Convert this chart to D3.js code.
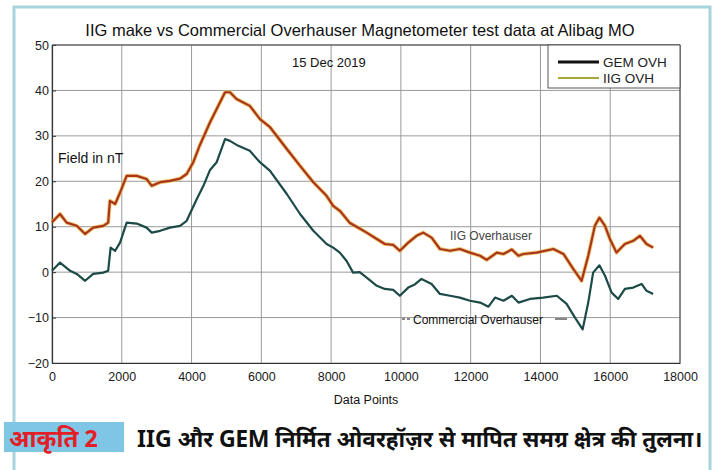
<!DOCTYPE html>
<html>
<head>
<meta charset="utf-8">
<script src="https://cdn.jsdelivr.net/npm/d3@7"></script>
<style>
  body { margin: 0; background: #fff; }
  svg text { font-family: "Liberation Sans", Arial, sans-serif; }
</style>
</head>
<body>
<div id="chart"></div>
<script>
// readings: data point index vs field (nT)
const iigPoints = [0, 230, 420, 710, 950, 1180, 1470, 1610, 1660, 1810, 1950, 2140, 2430, 2710, 2860, 3100, 3380, 3670, 3860, 4050, 4240, 4530, 4720, 4960, 5100, 5290, 5670, 5960, 6250, 6730, 7110, 7490, 7870, 8060, 8250, 8540, 8730, 9020, 9310, 9540, 9780, 9970, 10210, 10450, 10640, 10880, 11120, 11410, 11690, 11980, 12270, 12460, 12750, 12940, 13180, 13370, 13510, 13890, 14370, 14660, 14940, 15180, 15370, 15560, 15690, 15850, 15990, 16180, 16420, 16660, 16850, 17040, 17230];
const iigField = [11.0, 12.8, 10.9, 10.2, 8.4, 9.8, 10.2, 10.9, 15.7, 15.0, 17.5, 21.2, 21.2, 20.5, 19.0, 19.8, 20.1, 20.6, 21.6, 24.2, 28.0, 33.0, 35.9, 39.6, 39.6, 38.1, 36.6, 33.7, 31.9, 27.1, 23.4, 19.8, 16.8, 14.6, 13.5, 10.8, 10.0, 8.7, 7.3, 6.2, 6.0, 4.7, 6.5, 8.0, 8.7, 7.6, 5.1, 4.7, 5.1, 4.3, 3.6, 2.7, 4.3, 4.0, 5.0, 3.6, 4.0, 4.3, 5.1, 4.0, 0.7, -1.9, 3.6, 10.2, 12.0, 10.2, 7.3, 4.3, 6.2, 6.9, 8.0, 6.2, 5.4];

const gemPoints = [0, 230, 520, 710, 950, 1180, 1470, 1610, 1680, 1810, 1950, 2140, 2430, 2710, 2860, 3100, 3380, 3670, 3860, 4150, 4340, 4530, 4720, 4960, 5100, 5340, 5670, 5960, 6250, 6730, 7110, 7490, 7870, 8060, 8250, 8440, 8630, 8820, 9020, 9310, 9540, 9780, 9970, 10210, 10400, 10590, 10880, 11120, 11410, 11690, 11980, 12270, 12510, 12700, 12940, 13180, 13370, 13700, 14080, 14470, 14750, 14990, 15210, 15370, 15510, 15690, 15850, 16040, 16230, 16420, 16660, 16900, 17040, 17230];
const gemField = [0.3, 2.1, 0.3, -0.4, -1.9, -0.4, -0.1, 0.3, 5.4, 4.7, 6.5, 10.9, 10.7, 9.8, 8.7, 9.1, 9.8, 10.2, 11.3, 16.1, 19.0, 22.5, 24.2, 29.3, 28.9, 27.8, 26.7, 24.2, 22.3, 17.2, 12.8, 9.1, 6.2, 5.4, 4.3, 2.5, -0.1, 0.0, -1.2, -3.0, -3.7, -3.9, -5.2, -3.4, -2.7, -1.5, -2.6, -4.8, -5.2, -5.6, -6.3, -6.7, -7.6, -5.6, -6.3, -5.2, -6.7, -5.9, -5.6, -5.2, -7.0, -10.0, -12.6, -6.7, -0.1, 1.5, -0.8, -4.5, -5.9, -3.7, -3.4, -2.6, -4.1, -4.8];

const xTicks = [0, 2000, 4000, 6000, 8000, 10000, 12000, 14000, 16000, 18000];
const yTicks = [-20, -10, 0, 10, 20, 30, 40, 50];
const legendLabels = ["GEM OVH", "IIG OVH"];

const width = 715, height = 470;
const margin = { top: 45, right: 35, bottom: 107, left: 52 };

const svg = d3.select("#chart").append("svg")
  .attr("width", width)
  .attr("height", height);

// outer frame of the figure
svg.append("rect")
  .attr("x", 14).attr("y", 7)
  .attr("width", 696).attr("height", 470)
  .attr("fill", "#fff")
  .attr("stroke", "#a8d4de")
  .attr("stroke-width", 3);

const x = d3.scaleLinear().domain([0, 18000]).range([margin.left, width - margin.right]);
const y = d3.scaleLinear().domain([-20, 50]).range([height - margin.bottom, margin.top]);

// grid
svg.append("g")
  .selectAll("line")
  .data(xTicks)
  .join("line")
  .attr("x1", d => x(d)).attr("x2", d => x(d))
  .attr("y1", y(50)).attr("y2", y(-20))
  .attr("stroke", "#9a9a9a").attr("stroke-width", 1);

svg.append("g")
  .selectAll("line")
  .data(yTicks)
  .join("line")
  .attr("x1", x(0)).attr("x2", x(18000))
  .attr("y1", d => y(d)).attr("y2", d => y(d))
  .attr("stroke", "#9a9a9a").attr("stroke-width", 1);

// axes
const xAxis = svg.append("g")
  .attr("transform", `translate(0,${y(-20)})`)
  .call(d3.axisBottom(x).tickValues(xTicks).tickFormat(d3.format("d")).tickSize(0).tickPadding(9));
const yAxis = svg.append("g")
  .attr("transform", `translate(${x(0)},0)`)
  .call(d3.axisLeft(y).tickValues(yTicks).tickSize(-4).tickPadding(3));

[xAxis, yAxis].forEach(a => {
  a.select(".domain").attr("stroke", "#333").attr("stroke-width", 1.2);
  a.selectAll("text").attr("font-size", 12.5).attr("fill", "#1a1a1a");
  a.selectAll(".tick line").attr("stroke", "#333");
});

// top and right frame
svg.append("line")
  .attr("x1", x(0)).attr("x2", x(18000))
  .attr("y1", y(50)).attr("y2", y(50))
  .attr("stroke", "#444");
svg.append("line")
  .attr("x1", x(18000)).attr("x2", x(18000))
  .attr("y1", y(50)).attr("y2", y(-20))
  .attr("stroke", "#444");

const iigData = iigPoints.map((p, i) => [p, iigField[i]]);
const gemData = gemPoints.map((p, i) => [p, gemField[i]]);

const line = d3.line()
  .x(d => x(d[0]))
  .y(d => y(d[1]));

// IIG: red-brown trace with yellow halo
svg.append("path")
  .datum(iigData)
  .attr("d", line)
  .attr("fill", "none")
  .attr("stroke", "#eab43c")
  .attr("stroke-width", 4)
  .attr("stroke-linejoin", "round")
  .attr("opacity", 0.7);
svg.append("path")
  .datum(iigData)
  .attr("d", line)
  .attr("fill", "none")
  .attr("stroke", "#a8361c")
  .attr("stroke-width", 2.2)
  .attr("stroke-linejoin", "round");

svg.append("path")
  .datum(gemData)
  .attr("d", line)
  .attr("fill", "none")
  .attr("stroke", "#1c4a46")
  .attr("stroke-width", 2.2)
  .attr("stroke-linejoin", "round");

// legend
const legend = svg.append("g");
legend.append("rect")
  .attr("x", 548).attr("y", y(50))
  .attr("width", x(18000) - 548).attr("height", 43)
  .attr("fill", "#fff")
  .attr("stroke", "#555");
const legendColors = ["#111", "#a8a838"];
legendLabels.forEach((lab, i) => {
  const ly = 62 + i * 16;
  legend.append("line")
    .attr("x1", 558).attr("x2", 599)
    .attr("y1", ly).attr("y2", ly)
    .attr("stroke", legendColors[i])
    .attr("stroke-width", i === 0 ? 3 : 2);
  legend.append("text")
    .attr("x", 603).attr("y", ly + 5)
    .attr("font-size", 13.5)
    .attr("fill", "#222")
    .text(lab);
});

// titles and notes
svg.append("text")
  .attr("x", 360).attr("y", 36)
  .attr("text-anchor", "middle")
  .attr("font-size", 16.5)
  .attr("fill", "#111")
  .text("IIG make vs Commercial Overhauser Magnetometer test data at Alibag MO");

svg.append("text")
  .attr("x", 292).attr("y", 67)
  .attr("font-size", 13)
  .attr("fill", "#111")
  .text("15 Dec 2019");

svg.append("text")
  .attr("x", 58).attr("y", 163)
  .attr("font-size", 14)
  .attr("fill", "#111")
  .text("Field in nT");

svg.append("text")
  .attr("x", 450).attr("y", 240)
  .attr("font-size", 12)
  .attr("fill", "#444")
  .text("IIG Overhauser");

svg.append("line")
  .attr("x1", 402).attr("x2", 412)
  .attr("y1", 319).attr("y2", 319)
  .attr("stroke", "#111").attr("stroke-dasharray", "3,2");
svg.append("text")
  .attr("x", 413).attr("y", 323.5)
  .attr("font-size", 12)
  .attr("fill", "#111")
  .text("Commercial Overhauser");
svg.append("line")
  .attr("x1", 555).attr("x2", 567)
  .attr("y1", 319).attr("y2", 319)
  .attr("stroke", "#111");

svg.append("text")
  .attr("x", 366).attr("y", 404)
  .attr("text-anchor", "middle")
  .attr("font-size", 12.5)
  .attr("fill", "#111")
  .text("Data Points");

// figure caption
svg.append("rect")
  .attr("x", 4).attr("y", 422)
  .attr("width", 120).attr("height", 30)
  .attr("fill", "#7fc6e6");
svg.append("text")
  .attr("x", 9).attr("y", 447)
  .attr("font-size", 24)
  .attr("font-weight", "bold")
  .attr("fill", "#e21e26")
  .style("font-family", "'Noto Sans Devanagari', 'Lohit Devanagari', 'Noto Sans', sans-serif")
  .text("आकृति 2");
svg.append("text")
  .attr("x", 137).attr("y", 447)
  .attr("font-size", 22.5)
  .attr("font-weight", "bold")
  .attr("fill", "#111")
  .style("font-family", "'Noto Sans Devanagari', 'Lohit Devanagari', 'Noto Sans', sans-serif")
  .text("IIG और GEM निर्मित ओवरहॉज़र से मापित समग्र क्षेत्र की तुलना।");
</script>
</body>
</html>
